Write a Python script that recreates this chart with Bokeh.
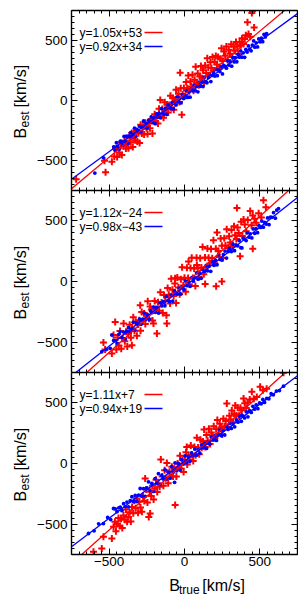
from bokeh.plotting import figure
from bokeh.models import Range1d, LinearAxis, SingleIntervalTicker, Label
from bokeh.layouts import column, row
from bokeh.embed import file_html
from bokeh.resources import INLINE

# ---------------- data ----------------
X_RANGE = (-750, 750)
Y_RANGE = (-750, 750)
TICKS = [-500, 0, 500]
TICK_LABELS = ["\u2212500", "0", "500"]

RED_SLOPE = [1.05, 1.12, 1.11]
RED_ICPT = [53, -24, 7]
BLUE_SLOPE = [0.92, 0.98, 0.94]
BLUE_ICPT = [34, -43, 19]

P1_RED = [(-719,-657),(-531,-503),(-524,-597),(-482,-511),(-466,-466),(-458,-403),(-447,-471),(-439,-398),
          (-431,-435),(-424,-352),(-416,-454),(-405,-382),(-397,-334),(-389,-400),(-381,-362),(-372,-398),
          (-365,-310),(-357,-347),(-350,-270),(-343,-387),(-336,-295),(-328,-331),(-321,-254),(-313,-341),
          (-306,-273),(-298,-355),(-291,-203),(-283,-274),(-276,-222),(-268,-283),(-260,-185),(-252,-232),
          (-245,-279),(-238,-192),(-229,-232),(-221,-154),(-213,-276),(-206,-173),(-198,-115),(-191,-178),
          (-184,-130),(-176,-192),(-169,-69),(-161,5),(-154,-129),(-147,-71),(-139,-143),(-131,-15),
          (-124,-82),(-116,-34),(-108,-100),(-101,-38),(-93,40),(-86,-62),(-78,21),(-71,-77),(-63,7),
          (-56,89),(-48,-12),(-40,56),(-33,-12),(-29,232),(-25,102),(-18,-119),(-12,50),(-4,104),
          (4,37),(11,155),(18,102),(25,209),(32,77),(39,159),(46,116),(53,214),(60,81),(67,173),(74,281),
          (81,143),(88,225),(95,128),(102,200),(109,287),(116,185),(123,252),(130,150),(137,292),(144,229),
          (151,352),(158,274),(165,211),(172,319),(179,271),(186,363),(193,251),(200,323),(208,371),
          (215,299),(223,362),(230,265),(238,348),(246,436),(254,330),(262,408),(270,372),(278,450),
          (286,338),(294,422),(302,390),(310,469),(318,362),(326,450),(334,414),(342,487),(350,451),
          (358,389),(366,487),(374,461),(382,519),(392,470),(400,513),(407,544),(418,652),(425,554),
          (436,531),(447,729),(451,746),(462,608)]
P1_BLUE = [(-595,-605),(-538,-478),(-470,-386),(-461,-415),(-452,-352),(-444,-382),(-435,-406),(-427,-341),
           (-418,-346),(-410,-373),(-401,-300),(-393,-343),(-384,-297),(-375,-356),(-367,-296),(-358,-267),
           (-350,-308),(-341,-285),(-332,-231),(-324,-299),(-315,-241),(-307,-260),(-298,-215),(-289,-260),
           (-281,-222),(-272,-171),(-264,-227),(-255,-191),(-246,-230),(-238,-165),(-229,-180),(-221,-137),
           (-212,-183),(-203,-146),(-195,-193),(-186,-111),(-178,-140),(-169,-107),(-160,-143),(-152,-68),
           (-143,-104),(-135,-115),(-126,-64),(-117,-116),(-109,-36),(-100,-56),(-92,-67),(-83,-18),
           (-74,-69),(-66,-16),(-57,-38),(-49,31),(-40,-11),(-31,22),(-23,-20),(-14,48),(-6,16),(3,42),
           (12,81),(20,26),(29,75),(37,28),(46,97),(55,81),(63,125),(72,81),(80,117),(89,72),(98,152),
           (106,118),(115,157),(123,116),(132,195),(141,157),(149,148),(158,191),(166,217),(175,158),
           (184,209),(192,233),(201,204),(209,261),(218,207),(227,253),(235,241),(244,283),(252,221),
           (261,293),(270,283),(278,269),(287,332),(295,294),(304,322),(313,286),(321,358),(330,321),
           (338,358),(347,323),(356,384),(364,361),(373,414),(381,361),(390,397),(399,360),(407,426),
           (416,404),(424,455),(433,427),(442,414),(450,462),(459,496),(467,444),(476,481),(485,446),
           (493,513),(502,489),(510,519),(519,490),(528,550),(536,530),(545,557)]

P2_RED = [(-538,-502),(-527,-560),(-482,-594),(-471,-440),(-460,-333),(-452,-560),(-444,-461),(-436,-527),
          (-428,-408),(-420,-554),(-412,-465),(-404,-346),(-396,-493),(-388,-414),(-380,-535),(-372,-431),
          (-364,-357),(-356,-463),(-349,-526),(-348,-389),(-340,-295),(-332,-406),(-324,-332),(-316,-448),
          (-308,-354),(-300,-320),(-294,-195),(-292,-406),(-284,-252),(-276,-328),(-268,-264),(-260,-350),
          (-252,-281),(-244,-162),(-236,-308),(-228,-206),(-220,-230),(-212,-321),(-206,-346),(-198,-161),
          (-190,-227),(-183,-429),(-176,-171),(-168,-242),(-160,-88),(-152,-174),(-144,-260),(-136,-111),
          (-128,-162),(-120,-278),(-117,-346),(-112,-54),(-104,-110),(-96,-182),(-88,22),(-80,-69),
          (-72,-120),(-64,-16),(-62,27),(-56,-177),(-48,32),(-40,-49),(-32,-105),(-24,19),(-16,118),
          (-8,-33),(0,31),(8,-85),(16,114),(24,28),(27,164),(32,-23),(40,111),(48,195),(56,29),(64,108),
          (72,-38),(80,196),(82,136),(88,110),(96,39),(104,192),(112,116),(120,285),(128,59),(136,198),
          (137,-20),(144,117),(152,271),(160,195),(168,149),(176,268),(184,192),(192,341),(200,150),
          (208,269),(210,-40),(216,403),(224,252),(232,201),(240,355),(248,0),(248,294),(256,193),
          (264,357),(272,296),(280,430),(288,274),(296,373),(304,321),(312,425),(320,289),(329,455),
          (336,382),(344,351),(348,606),(352,445),(360,399),(369,209),(376,492),(384,376),(392,512),
          (400,469),(410,415),(420,506),(436,581),(445,464),(453,543),(453,269),(465,517),(476,485),
          (492,562),(510,527),(524,670),(540,611)]
P2_BLUE = [(-549,-579),(-520,-561),(-493,-551),(-482,-441),(-470,-486),(-458,-487),(-447,-511),(-436,-435),
           (-427,-413),(-414,-464),(-404,-417),(-393,-473),(-382,-409),(-372,-380),(-361,-417),(-351,-392),
           (-340,-336),(-330,-401),(-319,-341),(-309,-358),(-298,-310),(-288,-353),(-277,-311),(-267,-260),
           (-256,-312),(-246,-274),(-235,-311),(-225,-243),(-214,-256),(-204,-211),(-193,-254),(-183,-215),
           (-172,-260),(-162,-176),(-151,-201),(-141,-166),(-130,-200),(-120,-123),(-109,-156),(-99,-165),
           (-88,-111),(-78,-161),(-67,-79),(-57,-97),(-46,-104),(-36,-54),(-25,-103),(-15,-47),(-4,-67),
           (6,5),(17,-34),(27,0),(38,-39),(48,31),(59,3),(69,30),(80,71),(90,19),(101,70),(111,26),
           (122,98),(132,82),(143,130),(153,88),(164,127),(174,84),(185,166),(195,134),(206,176),(216,138),
           (227,220),(237,182),(248,177),(258,222),(269,251),(279,193),(290,247),(300,273),(311,247),
           (321,307),(332,254),(342,302),(353,294),(363,338),(374,279),(381,277),(390,358),(399,349),
           (409,337),(418,401),(428,365),(437,393),(447,359),(456,433),(466,397),(475,436),(485,402),
           (494,461),(504,446),(513,498),(523,448),(532,487),(542,474),(551,524),(561,468),(570,531),
           (580,529),(591,568),(603,522),(612,588),(624,601)]

P3_RED = [(-604,-728),(-549,-700),(-538,-604),(-482,-618),(-471,-522),(-462,-481),(-455,-558),(-446,-498),
          (-438,-449),(-430,-515),(-421,-455),(-413,-531),(-405,-428),(-397,-464),(-389,-380),(-381,-481),
          (-372,-440),(-364,-402),(-356,-478),(-348,-359),(-340,-410),(-332,-307),(-324,-368),(-316,-288),
          (-308,-405),(-300,-316),(-292,-362),(-283,-398),(-275,-268),(-267,-309),(-261,-124),(-254,-215),
          (-246,-321),(-237,-440),(-229,-232),(-228,-412),(-221,-268),(-213,-184),(-205,-296),(-197,-207),
          (-189,-133),(-181,-234),(-173,-165),(-165,-191),(-157,33),(-148,-107),(-140,-183),(-132,-55),
          (-124,-121),(-117,5),(-108,-163),(-100,-69),(-92,-105),(-84,-26),(-76,-107),(-68,-43),(-62,-343),
          (-54,-108),(-46,1),(-38,-30),(-30,64),(-22,-42),(-14,31),(-6,-70),(2,29),(10,93),(15,137),
          (18,-8),(26,66),(34,30),(42,149),(50,73),(58,21),(66,135),(74,69),(82,213),(90,132),(98,76),
          (106,195),(114,129),(122,182),(130,281),(138,135),(146,234),(154,188),(162,287),(170,161),
          (178,255),(186,228),(194,307),(202,211),(210,285),(218,359),(226,248),(234,327),(242,296),
          (250,240),(258,368),(266,307),(274,351),(281,495),(290,299),(298,393),(306,362),(314,436),
          (322,339),(330,408),(337,478),(345,395),(353,459),(362,394),(371,459),(380,439),(392,536),
          (400,496),(410,457),(420,503),(433,528),(447,591),(460,533),(480,549),(502,632),(520,604),
          (545,617),(657,747)]
P3_BLUE = [(-637,-577),(-600,-555),(-570,-497),(-538,-495),(-510,-445),(-490,-462),(-471,-371),(-459,-374),
           (-448,-397),(-436,-366),(-426,-360),(-415,-389),(-404,-331),(-393,-355),(-382,-318),(-371,-358),
           (-360,-307),(-349,-274),(-338,-314),(-327,-263),(-316,-313),(-305,-260),(-294,-206),(-283,-269),
           (-272,-207),(-261,-271),(-250,-201),(-239,-151),(-228,-225),(-217,-165),(-206,-230),(-195,-124),
           (-184,-164),(-173,-84),(-162,-173),(-151,-98),(-140,-128),(-129,-52),(-118,-127),(-107,-72),
           (-96,-121),(-85,-26),(-74,-71),(-66,-155),(-63,5),(-52,-60),(-41,0),(-30,-54),(-19,31),(-8,-4),
           (3,62),(14,7),(25,58),(36,18),(47,88),(58,64),(69,119),(80,69),(91,115),(102,85),(113,153),
           (124,128),(135,166),(146,124),(157,181),(168,159),(179,217),(190,193),(201,230),(212,190),
           (223,237),(234,274),(245,229),(256,272),(267,235),(278,305),(289,281),(300,331),(311,289),
           (322,327),(333,302),(344,360),(355,341),(366,391),(377,348),(380,398),(388,392),(399,376),
           (410,426),(421,385),(432,435),(443,421),(454,471),(465,448),(476,484),(487,452),(498,499),
           (509,492),(520,528),(531,503),(546,536),(560,533),(575,575),(590,566),(610,597),(630,601),
           (657,637)]

REDS = [P1_RED, P2_RED, P3_RED]
BLUES = [P1_BLUE, P2_BLUE, P3_BLUE]

# ---------------- style / layout ----------------
FONT = "Liberation Sans"
PAGE_H = 596
YLAB_W = 30          # strip holding the y-axis titles
LEFT = 41            # tick-label room left of the frames
FW = 226
FHS = [180, 182, 182]
TOP = 10
BOTTOM = 18
XLAB_H = PAGE_H - TOP - sum(FHS) - BOTTOM
RED = "#ff0000"
BLUE = "#0000ff"


def fmt_fit(s, b):
    sign = "+" if b >= 0 else "\u2212"
    return f"y={s:.2f}x{sign}{abs(b)}"


def style_axis(ax, labels, standoff=4):
    ax.ticker = SingleIntervalTicker(interval=500, num_minor_ticks=10)
    ax.major_tick_in = 6
    ax.major_tick_out = 0
    ax.minor_tick_in = 3
    ax.minor_tick_out = 0
    ax.axis_line_color = "black"
    ax.axis_line_width = 1.4
    ax.major_tick_line_color = "black"
    ax.minor_tick_line_color = "black"
    ax.major_tick_line_width = 1
    ax.minor_tick_line_width = 1
    if labels:
        ax.major_label_overrides = {t: l for t, l in zip(TICKS, TICK_LABELS)}
        ax.major_label_text_font = FONT
        ax.major_label_text_font_size = "13.5px"
        ax.major_label_text_color = "black"
        ax.major_label_standoff = standoff
    else:
        ax.major_label_text_font_size = "0px"
        ax.major_label_text_color = None
        ax.major_label_standoff = 0


def blank_fig(w, h):
    f = figure(width=w, height=h, x_range=Range1d(0, w), y_range=Range1d(0, h),
               x_axis_location=None, y_axis_location=None, min_border=0,
               output_backend="svg", toolbar_location=None)
    f.outline_line_color = None
    f.xgrid.visible = False
    f.ygrid.visible = False
    return f


def make_panel(i, bottom):
    fh = FHS[i]
    p = figure(x_range=Range1d(*X_RANGE), y_range=Range1d(*Y_RANGE),
               frame_width=FW, frame_height=fh,
               x_axis_location=None, y_axis_location=None,
               output_backend="svg", toolbar_location=None,
               min_border_left=LEFT, min_border_right=1,
               min_border_top=TOP if i == 0 else 0,
               min_border_bottom=BOTTOM if bottom else 0)
    p.outline_line_color = None
    p.xgrid.visible = False
    p.ygrid.visible = False

    for side, lab, so in (("left", True, 4), ("right", False, 0),
                          ("above", False, 0), ("below", bottom, 2)):
        ax = LinearAxis()
        style_axis(ax, lab, so)
        p.add_layout(ax, side)

    rx, ry = zip(*REDS[i])
    bx, by = zip(*BLUES[i])
    p.scatter(list(rx), list(ry), marker="cross", size=7, line_width=2, line_color=RED)
    p.scatter(list(bx), list(by), marker="circle", size=3.8, fill_color=BLUE, line_color=None)

    xs = list(X_RANGE)
    p.line(xs, [RED_SLOPE[i] * x + RED_ICPT[i] for x in xs], line_color=RED, line_width=1.3)
    p.line(xs, [BLUE_SLOPE[i] * x + BLUE_ICPT[i] for x in xs], line_color=BLUE, line_width=1.3)

    # legend: text, then a short line to its right
    dx = (X_RANGE[1] - X_RANGE[0]) / FW
    dy = (Y_RANGE[1] - Y_RANGE[0]) / fh
    rows = [(fmt_fit(RED_SLOPE[i], RED_ICPT[i]), RED, 22),
            (fmt_fit(BLUE_SLOPE[i], BLUE_ICPT[i]), BLUE, 36)]
    for txt, col, ypx in rows:
        p.add_layout(Label(x=X_RANGE[0], y=Y_RANGE[1], x_offset=8, y_offset=-ypx,
                           text=txt, text_font=FONT, text_font_size="12px",
                           text_baseline="middle", text_align="left", text_color="black"))
        yd = Y_RANGE[1] - ypx * dy
        p.line([X_RANGE[0] + 73 * dx, X_RANGE[0] + 91 * dx], [yd, yd], line_color=col, line_width=1.3)
    return p


panels = [make_panel(0, False), make_panel(1, False), make_panel(2, True)]

# y-axis titles  B_est [km/s]  (rotated), one per panel
ylab = blank_fig(YLAB_W, PAGE_H)
top = TOP
for fh in FHS:
    cy = top + fh / 2
    rot = dict(angle=1.5707963, angle_units="rad", text_font=FONT,
               text_baseline="alphabetic", text_align="left", text_color="black")
    ylab.add_layout(Label(x=20, y=PAGE_H - (cy + 38), text="B", text_font_size="16px", **rot))
    ylab.add_layout(Label(x=24, y=PAGE_H - (cy + 27), text="est", text_font_size="12px", **rot))
    ylab.add_layout(Label(x=20, y=PAGE_H - (cy + 7), text="[km/s]", text_font_size="16px", **rot))
    top += fh

# x-axis title  B_true [km/s]
xlab = blank_fig(LEFT + FW + 1, XLAB_H)
cx = LEFT + FW / 2
hor = dict(text_font=FONT, text_baseline="alphabetic", text_align="left", text_color="black")
xlab.add_layout(Label(x=cx - 38, y=XLAB_H - 13, text="B", text_font_size="16px", **hor))
xlab.add_layout(Label(x=cx - 26.5, y=XLAB_H - 17, text="true", text_font_size="12px", **hor))
xlab.add_layout(Label(x=cx + 1, y=XLAB_H - 13, text="[km/s]", text_font_size="16px", **hor))

layout = row(ylab, column(*panels, xlab, spacing=0), spacing=0)

with open("out.html", "w") as f:
    f.write(file_html(layout, INLINE))
